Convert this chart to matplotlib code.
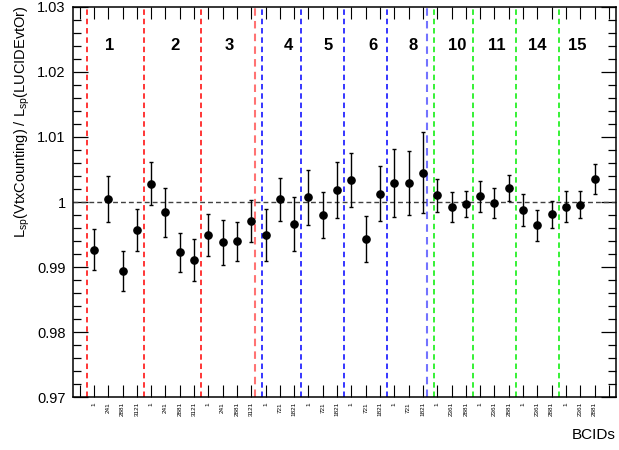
import matplotlib

matplotlib.use("Agg")
import matplotlib.pyplot as plt
import numpy as np
from matplotlib.ticker import FixedLocator, FuncFormatter, MultipleLocator

plt.rcParams["font.family"] = ["Liberation Sans", "DejaVu Sans"]
plt.rcParams["mathtext.fontset"] = "custom"
plt.rcParams["mathtext.rm"] = "Liberation Sans"
plt.rcParams["mathtext.it"] = "Liberation Sans:italic"
plt.rcParams["mathtext.bf"] = "Liberation Sans:bold"

# bunch-train groups and the BCIDs inside each one
groups = ["1", "2", "3", "4", "5", "6", "8", "10", "11", "14", "15"]
group_bcids = [
    ["1", "241", "2881", "3121"],
    ["1", "241", "2881", "3121"],
    ["1", "241", "2881", "3121"],
    ["1", "721", "1821"],
    ["1", "721", "1821"],
    ["1", "721", "1821"],
    ["1", "721", "1821"],
    ["1", "2361", "2881"],
    ["1", "2361", "2881"],
    ["1", "2361", "2881"],
    ["1", "2361", "2881"],
]
group_colors = ["#ff0000"] * 3 + ["#0000ff"] * 4 + ["#00ee00"] * 4

# L_sp(VtxCounting) / L_sp(LUCIDEvtOr) per BCID
ratio = [
    0.9927, 1.0005, 0.9894, 0.9957,
    1.0028, 0.9984, 0.9923, 0.9911,
    0.9949, 0.9938, 0.9940, 0.9971,
    0.9949, 1.0004, 0.9966,
    1.0007, 0.9980, 1.0018,
    1.0034, 0.9943, 1.0013,
    1.0029, 1.0029, 1.0045,
    1.0010, 0.9993, 0.9997,
    1.0009, 0.9998, 1.0022,
    0.9988, 0.9964, 0.9981,
    0.9993, 0.9996, 1.0036,
]
ratio_err = [
    0.0032, 0.0035, 0.0030, 0.0032,
    0.0033, 0.0038, 0.0030, 0.0032,
    0.0032, 0.0035, 0.0030, 0.0032,
    0.0040, 0.0033, 0.0041,
    0.0042, 0.0036, 0.0043,
    0.0042, 0.0035, 0.0042,
    0.0052, 0.0049, 0.0062,
    0.0025, 0.0023, 0.0020,
    0.0024, 0.0023, 0.0020,
    0.0025, 0.0024, 0.0021,
    0.0024, 0.0021, 0.0023,
]

# hand-placed group label positions (in bin units)
label_x = [2.62, 7.17, 10.99, 15.07, 17.86, 21.0, 23.8, 26.9, 29.66, 32.46, 35.28]

bcid_labels = [""] + [b for g in group_bcids for b in g] + [""]
n_bins = len(bcid_labels)
centers = np.arange(n_bins) + 0.5
edges = np.cumsum([1] + [len(g) for g in group_bcids])

fig = plt.figure(figsize=(6.19, 4.5), dpi=100)
ax = fig.add_axes([72.5 / 619, 1 - 397.3 / 450, 543.5 / 619, 390.6 / 450])

ax.set_xlim(0, n_bins)
ax.set_ylim(0.97, 1.03)

dash = (0, (3.6, 2.5))
for i, start in enumerate(edges[:-1]):
    color = group_colors[i]
    if i > 0 and group_colors[i - 1] != color:
        ax.axvline(start - 0.22, color=group_colors[i - 1], lw=1.5, ls=dash,
                   alpha=0.55, snap=True)
        ax.axvline(start + 0.25, color=color, lw=1.1, ls=dash, snap=True)
    else:
        ax.axvline(start, color=color, lw=1.1, ls=dash, snap=True)

ax.axhline(1.0, color="0.25", lw=1.0, ls=(0, (3.5, 2.2)))

ax.errorbar(centers[1:-1], ratio, yerr=ratio_err, fmt="o", color="black",
            markersize=5.2, elinewidth=1.0, capsize=1.4, capthick=1.0)

for x, name in zip(label_x, groups):
    ax.text(x, 1.024, name, ha="center", va="center", fontsize=12, fontweight="bold")

ax.xaxis.set_major_locator(FixedLocator(centers))
ax.set_xticklabels(bcid_labels, rotation=90, fontsize=4.6, va="top")
ax.tick_params(axis="x", which="major", direction="in", length=8.5, width=0.8,
               top=True, bottom=True, pad=3.5)

ax.yaxis.set_major_locator(MultipleLocator(0.01))
ax.yaxis.set_minor_locator(MultipleLocator(0.002))
ax.yaxis.set_major_formatter(FuncFormatter(lambda v, p: f"{v:g}"))
ax.tick_params(axis="y", which="major", direction="in", length=10.8, width=0.9,
               left=True, right=True, labelsize=10.5, pad=5)
ax.tick_params(axis="y", which="minor", direction="in", length=5.6, width=0.9,
               left=True, right=True)

for spine in ax.spines.values():
    spine.set_linewidth(1.1)

fig.text(22 / 619, 1 - 5 / 450,
         r"L$_{\mathrm{sp}}$(VtxCounting) / L$_{\mathrm{sp}}$(LUCIDEvtOr)",
         rotation=90, ha="center", va="top", fontsize=10.5)
fig.text(616 / 619, 1 - 435 / 450, "BCIDs", ha="right", va="center", fontsize=11)

fig.savefig("out.png", dpi=100)
plt.close(fig)
